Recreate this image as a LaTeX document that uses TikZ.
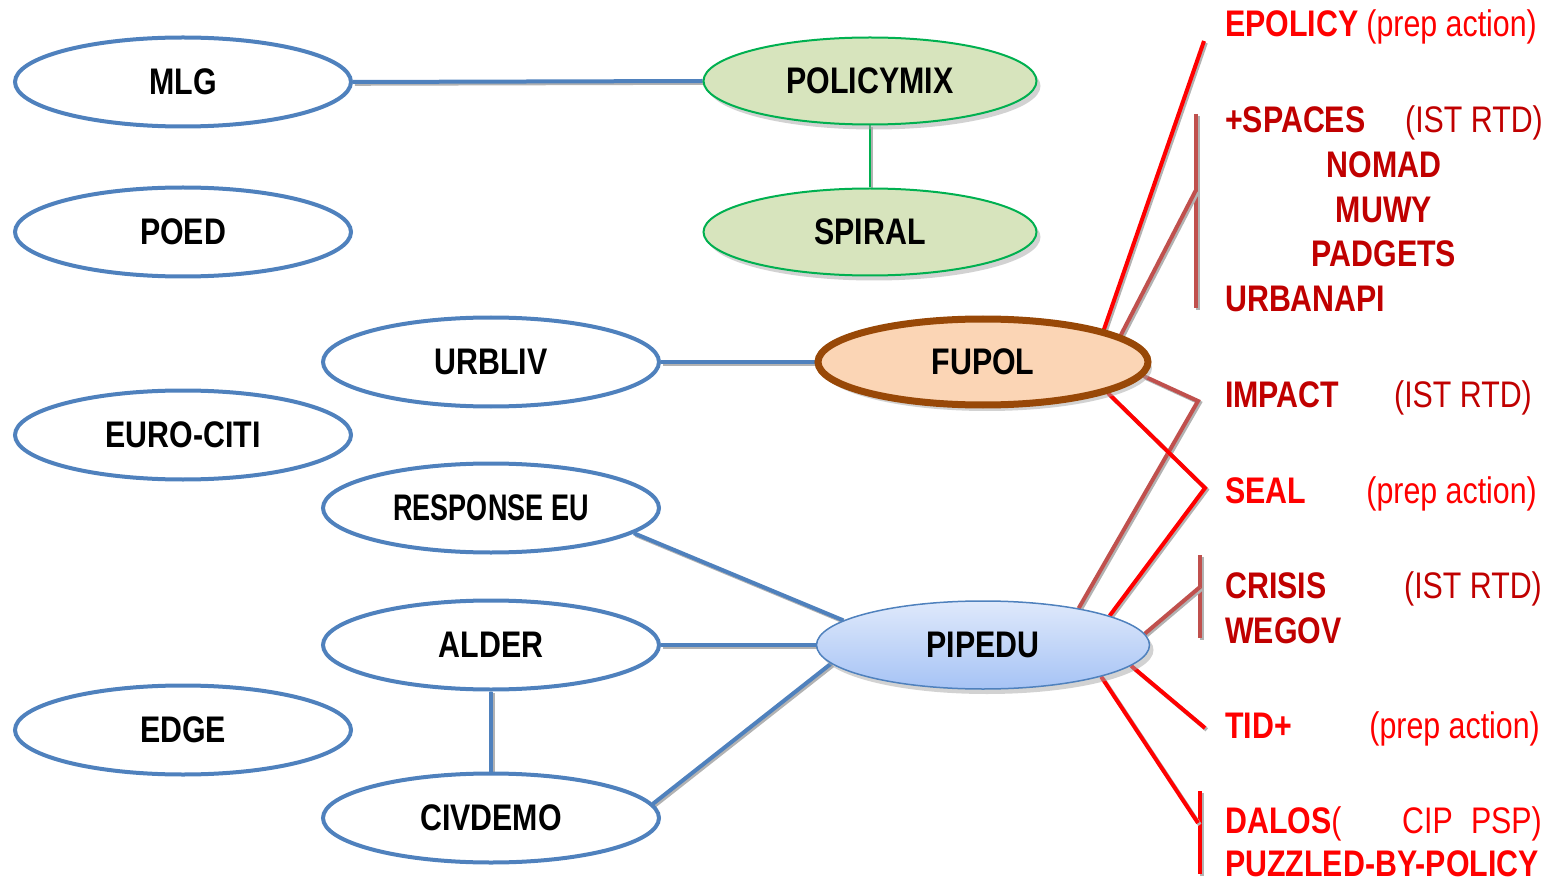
\documentclass[tikz,border=0pt]{standalone}
\usepackage{fontspec}
\setmainfont{Liberation Sans}[FakeStretch=0.82]
\usetikzlibrary{shapes.geometric,shadows,backgrounds}
\definecolor{bl}{HTML}{4F81BD}
\definecolor{grn}{HTML}{00B050}
\definecolor{gfill}{HTML}{D7E4BD}
\definecolor{brn}{HTML}{984807}
\definecolor{pch}{HTML}{FBD5B5}
\definecolor{lred}{HTML}{C0504D}
\definecolor{dred}{HTML}{C00000}
\definecolor{ptop}{HTML}{DFE9FB}
\definecolor{pbot}{HTML}{A6C3F5}
\begin{document}
\begin{tikzpicture}[x=1pt,y=-1pt,
  font=\fontsize{37}{40}\selectfont\bfseries,
  proj/.style={ellipse, draw=bl, line width=4pt, fill=white, minimum width=336pt, minimum height=89pt, inner sep=0pt},
  gproj/.style={ellipse, draw=grn, line width=2pt, fill=gfill, minimum width=333pt, minimum height=87pt, inner sep=0pt,
     drop shadow={shadow xshift=4pt, shadow yshift=-5pt, fill=black!35}},
  fproj/.style={ellipse, draw=brn, line width=7pt, fill=pch, minimum width=330pt, minimum height=86pt, inner sep=0pt,
     drop shadow={shadow xshift=4pt, shadow yshift=-6pt, fill=black!35}},
  pproj/.style={ellipse, draw=bl, line width=1.5pt, top color=ptop, bottom color=pbot, minimum width=333pt, minimum height=88pt, inner sep=0pt,
     drop shadow={shadow xshift=4pt, shadow yshift=-5pt, fill=black!35}},
  shd/.style={preaction={draw=black!30, line width=#1, transform canvas={xshift=1.8pt,yshift=-1.8pt}}},
  bline/.style={draw=bl, line width=4pt, shd=4pt},
  gline/.style={draw=grn, line width=2pt, shd=2pt},
  rline/.style={draw=red, line width=4pt, shd=4pt},
  dline/.style={draw=lred, line width=4pt, shd=4pt},
  lab/.style={anchor=base west, inner sep=0pt},
  par/.style={anchor=base east, inner sep=0pt, font=\fontsize{37}{40}\selectfont\mdseries}
]
\useasboundingbox (0,0) rectangle (1552,882);

% left column
\node[proj] (MLG) at (183,82) {MLG};
\node[proj] (POED) at (183,232) {POED};
\node[proj] (EURO) at (183,435) {EURO-CITI};
\node[proj] (EDGE) at (183,730) {EDGE};
% second column
\node[proj] (URBLIV) at (491,362) {URBLIV};
\node[proj] (RESP) at (491,508) {\scalebox{0.89}[1]{RESPONSE EU}};
\node[proj] (ALDER) at (491,645) {ALDER};
\node[proj] (CIV) at (491,818) {CIVDEMO};
% third column
\node[gproj] (PMIX) at (870,81) {POLICYMIX};
\node[gproj] (SPIRAL) at (870,232) {SPIRAL};
\node[fproj] (FUPOL) at (983,362) {FUPOL};
\node[pproj] (PIPEDU) at (983,645) {PIPEDU};

% free ends
\coordinate (epE) at (1204,41);
\coordinate (spT) at (1196,114);
\coordinate (spB) at (1196,308);
\coordinate (spM) at (1196,190);
\coordinate (impE) at (1198,401);
\coordinate (sealE) at (1205,488);
\coordinate (crT) at (1200,555);
\coordinate (crB) at (1200,638);
\coordinate (crM) at (1200,587);
\coordinate (tidE) at (1205,728);
\coordinate (daT) at (1200,791);
\coordinate (daB) at (1200,874);
\coordinate (daM) at (1198,823);

\begin{scope}[on background layer]
\draw[bline] (MLG.east) -- (PMIX.west);
\draw[gline] (PMIX.south) -- (SPIRAL.north);
\draw[bline] (URBLIV.east) -- (FUPOL.west);
\draw[bline] (RESP.-10) -- (PIPEDU.170);
\draw[bline] (ALDER.east) -- (PIPEDU.west);
\draw[bline] (ALDER.south) -- (CIV.north);
\draw[bline] (CIV.5.7) -- (PIPEDU.187.6);
% right side connectors
\draw[rline] (FUPOL.15) -- (epE);
\draw[dline] (spT) -- (spB);
\draw[dline] (FUPOL.11) -- (spM);
\draw[dline] (FUPOL.-5) -- (impE) -- (PIPEDU.21);
\draw[rline] (FUPOL.-14) -- (sealE) -- (PIPEDU.13);
\draw[dline] (crT) -- (crB);
\draw[dline] (PIPEDU.4.5) -- (crM);
\draw[rline] (PIPEDU.-8) -- (tidE);
\draw[rline] (daT) -- (daB);
\draw[rline] (PIPEDU.-15.6) -- (daM);
\end{scope}

% right side labels
\node[lab, text=red] (tEP) at (1225,37) {EPOLICY};
\node[par, text=red] (tEPp) at (1537,37) {(prep action)};
\node[lab, text=dred] (tSP) at (1225,133) {+SPACES};
\node[par, text=dred] (tSPp) at (1543,133) {(IST RTD)};
\node[anchor=base, inner sep=0pt, text=dred] (tNO) at (1384,178) {NOMAD};
\node[anchor=base, inner sep=0pt, text=dred] (tMU) at (1384,223) {MUWY};
\node[anchor=base, inner sep=0pt, text=dred] (tPA) at (1384,267) {PADGETS};
\node[lab, text=dred] (tUR) at (1225,312) {URBANAPI};
\node[lab, text=dred] (tIM) at (1225,407) {IMPACT};
\node[par, text=dred] (tIMp) at (1532,407) {(IST RTD)};
\node[lab, text=red] (tSE) at (1225,503) {SEAL};
\node[par, text=red] (tSEp) at (1537,503) {(prep action)};
\node[lab, text=dred] (tCR) at (1225,598) {CRISIS};
\node[par, text=dred] (tCRp) at (1542,598) {(IST RTD)};
\node[lab, text=dred] (tWE) at (1225,643) {WEGOV};
\node[lab, text=red] (tTI) at (1225,738) {TID+};
\node[par, text=red] (tTIp) at (1540,738) {(prep action)};
\node[lab, text=red] (tDA) at (1225,833) {DALOS\mdseries(};
\node[anchor=base west, inner sep=0pt, text=red, font=\fontsize{37}{40}\selectfont\mdseries] (tCIP) at (1402,833) {CIP};
\node[par, text=red] (tPSP) at (1542,833) {PSP)};
\node[lab, text=red] (tPU) at (1225,876) {PUZZLED-BY-POLICY};
\end{tikzpicture}
\end{document}
